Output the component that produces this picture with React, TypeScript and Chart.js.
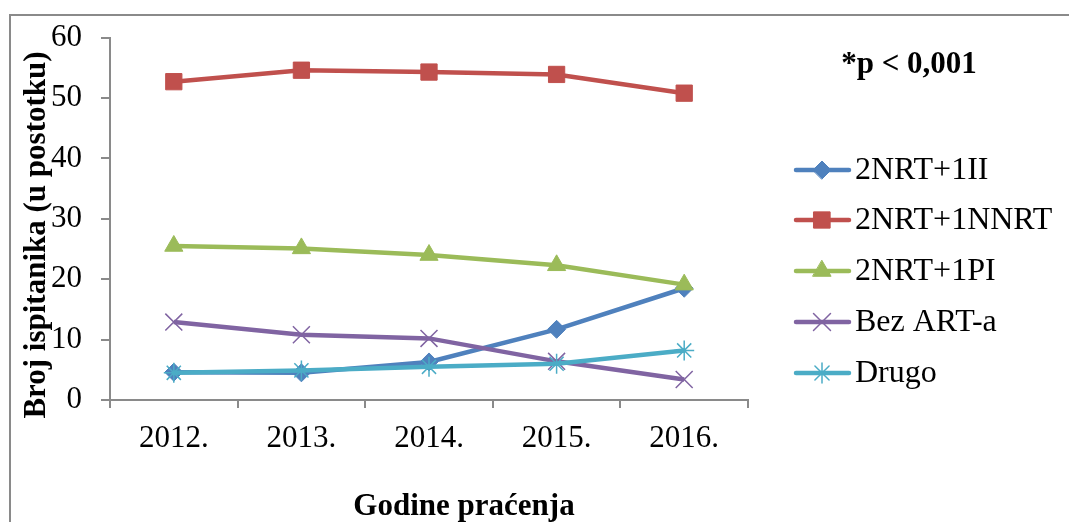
import React, { useEffect, useRef } from "react";
import { Chart, registerables } from "chart.js";
import { drawPoint } from "chart.js/helpers";

Chart.register(...registerables);

const years = ["2012.", "2013.", "2014.", "2015.", "2016."];
const seriesNames = ["2NRT+1II", "2NRT+1NNRT", "2NRT+1PI", "Bez ART-a", "Drugo"];
const nrtII = [4.6, 4.5, 6.3, 11.7, 18.5];
const nrtNNRT = [52.7, 54.6, 54.3, 53.9, 50.8];
const nrtPI = [25.5, 25.1, 24.0, 22.3, 19.1];
const bezART = [12.9, 10.8, 10.2, 6.4, 3.4];
const drugo = [4.5, 4.9, 5.5, 6.0, 8.2];
const yTicks = [0, 10, 20, 30, 40, 50, 60];

const colors = ["#4F81BD", "#C0504D", "#9BBB59", "#8064A2", "#4BACC6"];
const markers = ["rectRot", "rect", "triangle", "crossRot", "star"];
const radii = [9, 11.5, 10.5, 12, 10];
const seriesData = [nrtII, nrtNNRT, nrtPI, bezART, drugo];

const FONT = "'Liberation Serif', 'Times New Roman', serif";

const decorPlugin = {
  id: "decor",
  beforeDraw(chart: any) {
    const ctx = chart.ctx;
    ctx.save();
    ctx.strokeStyle = "#8a8a8a";
    ctx.lineWidth = 2;
    ctx.strokeRect(10, 15, 2000, 2000);
    ctx.restore();
  },
  afterDraw(chart: any) {
    const ctx = chart.ctx;
    ctx.save();
    ctx.fillStyle = "#000";
    ctx.textAlign = "center";
    ctx.textBaseline = "middle";
    // y title
    ctx.font = `bold 31px ${FONT}`;
    ctx.save();
    ctx.translate(37, 235);
    ctx.rotate(-Math.PI / 2);
    ctx.fillText("Broj ispitanika (u postotku)", 0, 0);
    ctx.restore();
    // x title
    ctx.fillText("Godine praćenja", 464, 507);
    // p value
    ctx.fillText("*p < 0,001", 909, 65);
    // legend
    const rows = [170, 220, 271, 322, 373];
    ctx.textAlign = "left";
    ctx.font = `32px ${FONT}`;
    seriesNames.forEach((name, i) => {
      const y = rows[i];
      ctx.strokeStyle = colors[i];
      ctx.lineWidth = 4.5;
      ctx.lineCap = "round";
      ctx.beginPath();
      ctx.moveTo(796, y);
      ctx.lineTo(849, y);
      ctx.stroke();
      ctx.fillStyle = colors[i];
      ctx.strokeStyle = colors[i];
      ctx.lineWidth = i >= 3 ? 1.5 : 1;
      drawPoint(ctx, { pointStyle: markers[i], radius: radii[i], rotation: 0, borderWidth: i >= 3 ? 1.5 : 1 }, 822, y);
      ctx.fillStyle = "#000";
      ctx.fillText(name, 855, y + 1);
    });
    ctx.restore();
  },
};

export default function App() {
  const ref = useRef<HTMLCanvasElement>(null);
  useEffect(() => {
    if (!ref.current) return;
    const chart = new Chart(ref.current, {
      type: "line",
      data: {
        labels: years,
        datasets: seriesNames.map((name, i) => ({
          label: name,
          data: seriesData[i],
          borderColor: colors[i],
          backgroundColor: colors[i],
          borderWidth: 4.5,
          pointStyle: markers[i] as any,
          pointRadius: radii[i],
          pointBorderWidth: i >= 3 ? 1.5 : 1,
          pointBackgroundColor: colors[i],
          pointBorderColor: colors[i],
          tension: 0,
          order: 5 - i,
        })),
      },
      options: {
        animation: false,
        responsive: false,
        maintainAspectRatio: false,
        events: [],
        layout: { padding: { left: 0, right: 321, top: 37, bottom: 0 } },
        plugins: { legend: { display: false }, tooltip: { enabled: false } },
        scales: {
          x: {
            type: "category",
            offset: true,
            grid: {
              offset: true,
              drawOnChartArea: false,
              drawTicks: true,
              tickLength: 8,
              color: "#8a8a8a",
              lineWidth: 2,
            },
            border: { color: "#8a8a8a", width: 2 },
            ticks: {
              color: "#000",
              font: { family: FONT, size: 31 },
              padding: 12,
              maxRotation: 0,
            },
            afterFit: (s: any) => {
              s.height = 122;
            },
          },
          y: {
            min: 0,
            max: 60,
            afterBuildTicks: (s: any) => {
              s.ticks = yTicks.map((v) => ({ value: v }));
            },
            grid: {
              drawOnChartArea: false,
              drawTicks: true,
              tickLength: 9,
              color: "#8a8a8a",
              lineWidth: 2,
            },
            border: { color: "#8a8a8a", width: 2 },
            ticks: {
              color: "#000",
              font: { family: FONT, size: 31 },
              padding: 19,
            },
            afterFit: (s: any) => {
              s.width = 110;
            },
          },
        },
      },
      plugins: [decorPlugin],
    });
    return () => chart.destroy();
  }, []);
  return (
    <div style={{ position: "fixed", left: 0, top: 0, width: 1069, height: 522, background: "#fff" }}>
      <canvas ref={ref} width={1069} height={522} style={{ width: 1069, height: 522 }} />
    </div>
  );
}
